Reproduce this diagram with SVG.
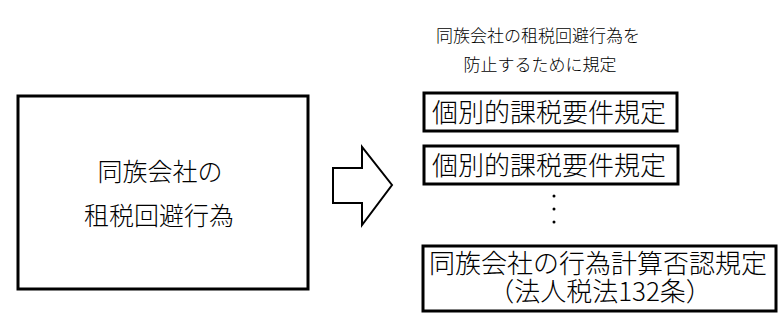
<svg xmlns="http://www.w3.org/2000/svg" width="782" height="323" viewBox="0 0 782 323">
<style>
text{font-family:"Noto Sans CJK JP","Noto Sans CJK SC",sans-serif;font-weight:300;fill:#000;text-anchor:middle}
.box{fill:#fff;stroke:#000;stroke-width:3}
.t24{font-size:25px}
.t17{font-size:17px}
.t26{font-size:26px}
</style>
<rect width="782" height="323" fill="#fff"/>
<g id="node-left">
<rect class="box" x="18" y="96" width="290" height="193"/>
<text class="t24" x="160" y="181">同族会社の</text>
<text class="t24" x="159" y="225">租税回避行為</text>
</g>
<g id="connectors">
<path d="M333,168 H362 V147 L392,185 L362,225 V203 H333 Z" fill="#fff" stroke="#000" stroke-width="2" stroke-linejoin="miter"/>
</g>
<g id="caption">
<text class="t17" x="538" y="42">同族会社の租税回避行為を</text>
<text class="t17" x="540" y="71">防止するために規定</text>
</g>
<g id="node-1">
<rect class="box" x="424" y="93" width="253" height="38"/>
<text class="t26" x="549" y="122">個別的課税要件規定</text>
</g>
<g id="node-2">
<rect class="box" x="424" y="146" width="254" height="38"/>
<text class="t26" x="549" y="175">個別的課税要件規定</text>
</g>
<g id="dots">
<circle cx="554" cy="196" r="1.5"/>
<circle cx="554" cy="209" r="1.5"/>
<circle cx="554" cy="222" r="1.5"/>
</g>
<g id="node-3">
<rect class="box" x="423" y="246" width="353" height="65"/>
<text class="t26"><tspan x="598" y="273">同族会社の行為計算否認規定</tspan><tspan x="600" y="301">（法人税法132条）</tspan></text>
</g>
</svg>
